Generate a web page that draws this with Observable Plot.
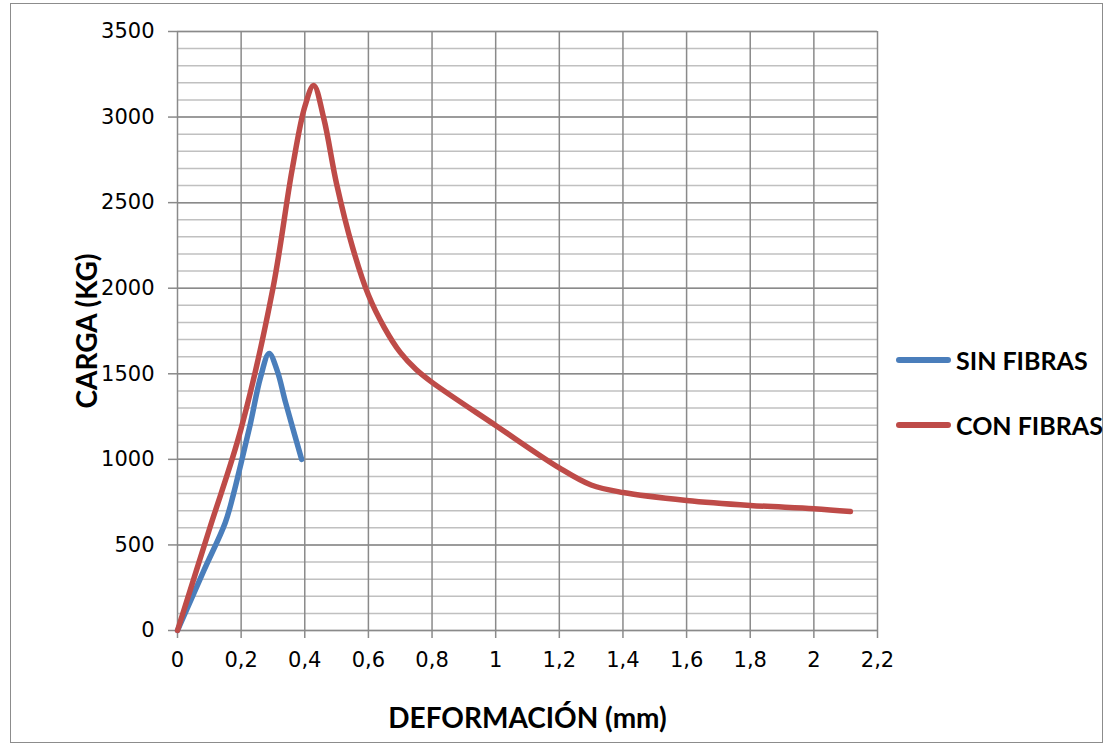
<!DOCTYPE html>
<html>
<head>
<meta charset="utf-8">
<script src="https://cdn.jsdelivr.net/npm/d3@7"></script>
<script src="https://cdn.jsdelivr.net/npm/@observablehq/plot@0.6"></script>
<style>
  html, body { margin: 0; padding: 0; background: #fff; }
  #wrap { position: relative; width: 1110px; height: 748px; overflow: hidden; }
  #border { position: absolute; left: 10px; top: 3px; width: 1093px; height: 740px; border: 1.5px solid #8c8c8c; box-sizing: border-box; }
  #chart { position: absolute; left: 0; top: 0; }
  #chart svg { font-family: "DejaVu Sans", sans-serif !important; font-size: 21px !important; }
  #chart svg g[aria-label="y-axis tick label"] text,
  #chart svg g[aria-label="x-axis tick label"] text { font-family: "DejaVu Sans", sans-serif !important; font-size: 21px !important; fill: #000; }
  #chart svg g[aria-label="y-axis label"] text,
  #chart svg g[aria-label="x-axis label"] text { font-family: Lato, "Open Sans", sans-serif !important; font-weight: bold !important; font-size: 28px !important; fill: #000; }
  .leg { position: absolute; left: 896px; display: flex; align-items: center; font-family: Lato, sans-serif; font-weight: bold; font-size: 25px; color: #000; }
  .sw { width: 55px; height: 5.5px; border-radius: 3px; margin-right: 5px; }
</style>
</head>
<body>
<div id="wrap">
  <div id="border"></div>
  <div id="chart"></div>
</div>
<script>
const seriesNames = ["SIN FIBRAS", "CON FIBRAS"];
const seriesColors = ["#4a7ebb", "#be4b48"];

const sinX = [0, 0.083, 0.15, 0.175, 0.2, 0.229, 0.261, 0.288, 0.313, 0.34, 0.39];
const sinY = [0, 351, 630, 790, 980, 1208, 1480, 1618, 1520, 1330, 1000];

const conX = [0, 0.1, 0.2, 0.3, 0.36, 0.4, 0.428, 0.46, 0.5, 0.55, 0.6, 0.65, 0.7, 0.75, 0.8, 1.0, 1.2, 1.3, 1.4, 1.6, 1.8, 2.0, 2.115];
const conY = [0, 590, 1180, 2000, 2690, 3060, 3185, 2990, 2610, 2240, 1960, 1770, 1625, 1525, 1450, 1198, 950, 850, 806, 760, 731, 711, 695];

const xTicks = [0, 0.2, 0.4, 0.6, 0.8, 1, 1.2, 1.4, 1.6, 1.8, 2, 2.2];
const yTicks = [0, 500, 1000, 1500, 2000, 2500, 3000, 3500];
const yMinor = d3.range(0, 3501, 100);

const xLabel = "DEFORMACIÓN (mm)";
const yLabel = "CARGA (KG)";

const sinData = sinX.map((x, i) => ({x, y: sinY[i], s: seriesNames[0]}));
const conData = conX.map((x, i) => ({x, y: conY[i], s: seriesNames[1]}));

const fmt = d => String(d).replace(".", ",");

const plot = Plot.plot({
  width: 1110,
  height: 748,
  marginLeft: 177,
  marginRight: 233,
  marginTop: 31,
  marginBottom: 118,
  style: { background: "transparent" },
  x: { domain: [0, 2.2] },
  y: { domain: [0, 3500] },
  marks: [
    Plot.ruleY(yMinor, { stroke: "#c0c0c0", strokeWidth: 1.5 }),
    Plot.ruleY(yTicks, { stroke: "#8a8a8a", strokeWidth: 1.5 }),
    Plot.ruleX(xTicks, { stroke: "#8a8a8a", strokeWidth: 1.5 }),
    Plot.axisY({ ticks: yTicks, tickSize: 9, tickPadding: 14, tickFormat: d => String(d), stroke: "#8a8a8a", strokeWidth: 1.5, fontSize: 21, label: yLabel, labelAnchor: "center", labelOffset: 100, labelArrow: "none" }),
    Plot.axisX({ ticks: xTicks, tickSize: 8, tickPadding: 14, tickFormat: fmt, stroke: "#8a8a8a", strokeWidth: 1.5, fontSize: 21, label: xLabel, labelAnchor: "center", labelOffset: 97, labelArrow: "none" }),
    Plot.line(sinData, { x: "x", y: "y", stroke: seriesColors[0], strokeWidth: 5.5, curve: "catmull-rom" }),
    Plot.line(conData, { x: "x", y: "y", stroke: seriesColors[1], strokeWidth: 5.5, curve: "catmull-rom" })
  ]
});
document.getElementById("chart").appendChild(plot);

// legend
const wrap = document.getElementById("wrap");
const legTops = [361, 426];
seriesNames.forEach((name, i) => {
  const d = document.createElement("div");
  d.className = "leg";
  d.style.top = (legTops[i] - 16) + "px";
  const sw = document.createElement("div");
  sw.className = "sw";
  sw.style.background = seriesColors[i];
  const t = document.createElement("span");
  t.textContent = name;
  d.appendChild(sw);
  d.appendChild(t);
  wrap.appendChild(d);
});
</script>
</body>
</html>
